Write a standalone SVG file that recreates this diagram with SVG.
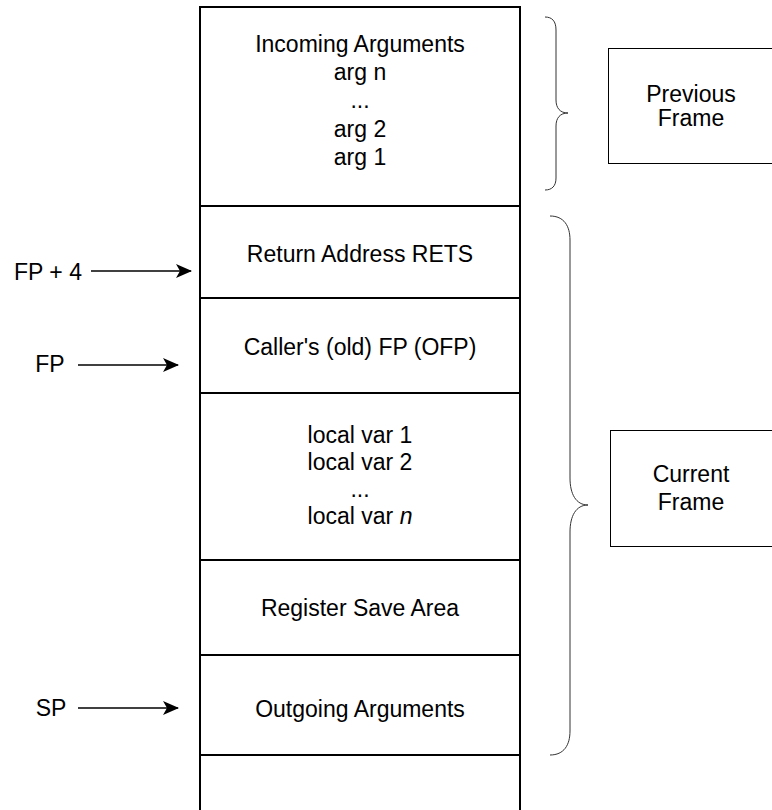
<svg xmlns="http://www.w3.org/2000/svg" width="772" height="810" viewBox="0 0 772 810">
<defs>
<style>
text{font-family:"Liberation Sans",Arial,sans-serif;font-size:23px;fill:#000;text-anchor:middle}
.stk{stroke:#000;stroke-width:2;fill:none}
.box{stroke:#000;stroke-width:1;fill:#fff}
.brace{stroke:#333;stroke-width:1;fill:none}
.arr{stroke:#000;stroke-width:1.5;fill:none;marker-end:url(#ah)}
</style>
<marker id="ah" viewBox="0 0 16 14" refX="15" refY="7" markerWidth="16" markerHeight="14" markerUnits="userSpaceOnUse" orient="auto">
<path d="M0,0 L16,7 L0,14 L4,7 Z" fill="#000"/>
</marker>
</defs>
<rect width="772" height="810" fill="#fff"/>
<g id="stack">
<path class="stk" d="M200,810 L200,7 L520,7 L520,810"/>
</g>
<g id="incoming">
<line class="stk" x1="200" y1="206" x2="520" y2="206"/>
<text x="360" y="52">Incoming Arguments</text>
<text x="360" y="80">arg n</text>
<text x="360" y="108">...</text>
<text x="360" y="137">arg 2</text>
<text x="360" y="165">arg 1</text>
</g>
<g id="rets">
<line class="stk" x1="200" y1="298" x2="520" y2="298"/>
<text x="360" y="262">Return Address RETS</text>
</g>
<g id="ofp">
<line class="stk" x1="200" y1="393" x2="520" y2="393"/>
<text x="360" y="355">Caller's (old) FP (OFP)</text>
</g>
<g id="locals">
<line class="stk" x1="200" y1="560" x2="520" y2="560"/>
<text x="360" y="443">local var 1</text>
<text x="360" y="470">local var 2</text>
<text x="360" y="497">...</text>
<text x="360" y="524">local var <tspan font-style="italic">n</tspan></text>
</g>
<g id="regsave">
<line class="stk" x1="200" y1="655" x2="520" y2="655"/>
<text x="360" y="616">Register Save Area</text>
</g>
<g id="outgoing">
<line class="stk" x1="200" y1="755" x2="520" y2="755"/>
<text x="360" y="717">Outgoing Arguments</text>
</g>
<g id="previous-frame">
<rect class="box" x="608.5" y="48.5" width="170" height="115"/>
<text x="691" y="102">Previous</text>
<text x="691" y="126">Frame</text>
</g>
<g id="current-frame">
<rect class="box" x="610.5" y="430.5" width="170" height="116"/>
<text x="691" y="482">Current</text>
<text x="691" y="510">Frame</text>
</g>
<g id="labels">
<text x="48" y="280">FP + 4</text>
<text x="50" y="372">FP</text>
<text x="51" y="716">SP</text>
</g>
<g id="connectors">
<path class="brace" d="M545,17 C552,17 556,21 556,30 L556,100 C556,108 560,113 568,113 C560,113 556,118 556,126 L556,178 C556,186 552,190 545,190"/>
<path class="brace" d="M550,216 C564,216 570,226 570,240 L570,478 C570,494 576,505 588,505 C576,505 570,516 570,532 L570,731 C570,745 564,755 550,755"/>
<line class="arr" x1="91" y1="271" x2="191" y2="271"/>
<line class="arr" x1="78" y1="365" x2="178" y2="365"/>
<line class="arr" x1="78" y1="708" x2="178" y2="708"/>
</g>
</svg>
